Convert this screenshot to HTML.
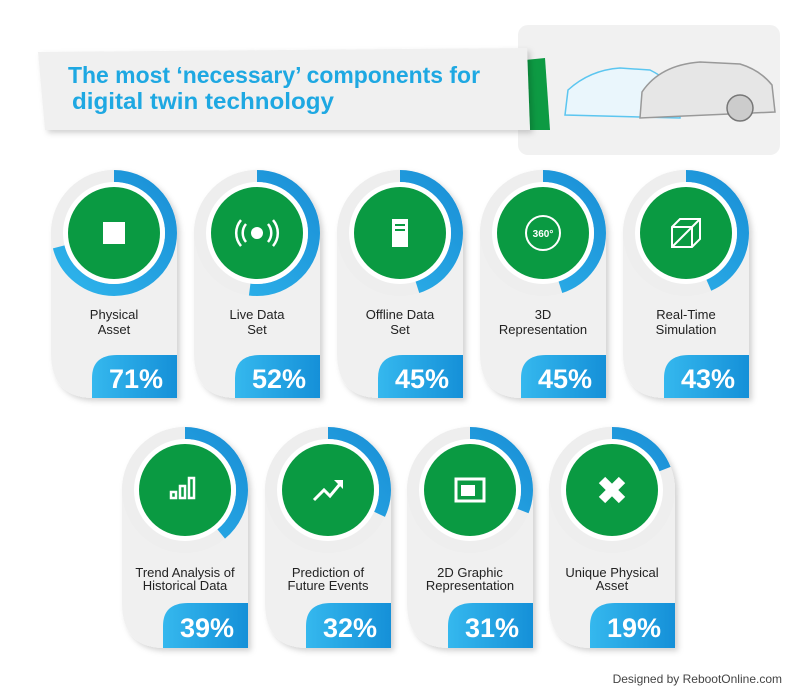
<!DOCTYPE html>
<html><head><meta charset="utf-8"><style>
html,body{margin:0;padding:0;background:#fff;}
svg{display:block;font-family:"Liberation Sans",Arial,sans-serif;}
</style></head><body>
<svg width="810" height="695" viewBox="0 0 810 695" xmlns="http://www.w3.org/2000/svg">
<defs>
<linearGradient id="bg" x1="0" y1="0" x2="1" y2="0"><stop offset="0" stop-color="#35b8ee"/><stop offset="1" stop-color="#1590d8"/></linearGradient>
<linearGradient id="ring" x1="0" y1="0" x2="1" y2="1"><stop offset="0" stop-color="#2fb5ec"/><stop offset="1" stop-color="#1a8fd6"/></linearGradient>
<filter id="sh" x="-20%" y="-20%" width="150%" height="150%"><feDropShadow dx="3" dy="3" stdDeviation="3" flood-color="#000" flood-opacity="0.18"/></filter>
</defs>
<rect x="518" y="25" width="262" height="130" rx="10" fill="#f1f1f1"/>
<polygon points="525,60 545,58 550,130 530,130" fill="#0d9a43"/>
<polygon points="38,52 527,48 530,130 45,130" fill="#f0f0f0" filter="url(#sh)"/>
<text x="68" y="83" font-size="23" font-weight="bold" fill="#1ea8e2" textLength="412" lengthAdjust="spacingAndGlyphs">The most ‘necessary’ components for</text>
<text x="72" y="109" font-size="23" font-weight="bold" fill="#1ea8e2" textLength="262" lengthAdjust="spacingAndGlyphs">digital twin technology</text>
<g stroke-width="1.5">
<path d="M565,115 L568,90 Q590,70 620,68 L650,70 Q670,80 680,95 L680,118 Z" stroke="#5cc6f0" fill="#eaf6fc"/>
<path d="M640,118 L642,92 Q660,65 700,62 L740,64 Q760,70 772,85 L775,112 L640,118 Z" stroke="#999" fill="#e6e6e6"/>
<circle cx="740" cy="108" r="13" stroke="#777" fill="#ccc"/>
</g>
<g>
<g transform="translate(114,233)"><path d="M-63,0 A63,63 0 0 1 63,0 L63,165 L-20,165 Q-63,165 -63,120 Z" fill="#f0f0f0" filter="url(#sh)"/><circle r="63" fill="#eeeeee"/><circle r="57" fill="none" stroke="url(#ring)" stroke-width="12" stroke-dasharray="254.3 400" transform="rotate(-90)"/><circle r="51" fill="#fff"/><circle r="46" fill="#0a9a42"/><rect x="-11" y="-11" width="22" height="22" fill="#fff"/><text y="86" font-size="13" text-anchor="middle" fill="#222">Physical</text><text y="101" font-size="13" text-anchor="middle" fill="#222">Asset</text><path d="M-22,165 L-22,145 Q-22,122 3,122 L63,122 L63,165 Z" fill="url(#bg)"/><text x="22" y="155" font-size="27" font-weight="bold" text-anchor="middle" fill="#fff">71%</text></g>
<g transform="translate(257,233)"><path d="M-63,0 A63,63 0 0 1 63,0 L63,165 L-20,165 Q-63,165 -63,120 Z" fill="#f0f0f0" filter="url(#sh)"/><circle r="63" fill="#eeeeee"/><circle r="57" fill="none" stroke="url(#ring)" stroke-width="12" stroke-dasharray="186.3 400" transform="rotate(-90)"/><circle r="51" fill="#fff"/><circle r="46" fill="#0a9a42"/><circle r="6" fill="#fff"/><path d="M-11,-9 A14,14 0 0 0 -11,9 M11,-9 A14,14 0 0 1 11,9 M-16,-13 A20,20 0 0 0 -16,13 M16,-13 A20,20 0 0 1 16,13" stroke="#fff" stroke-width="2.5" fill="none"/><text y="86" font-size="13" text-anchor="middle" fill="#222">Live Data</text><text y="101" font-size="13" text-anchor="middle" fill="#222">Set</text><path d="M-22,165 L-22,145 Q-22,122 3,122 L63,122 L63,165 Z" fill="url(#bg)"/><text x="22" y="155" font-size="27" font-weight="bold" text-anchor="middle" fill="#fff">52%</text></g>
<g transform="translate(400,233)"><path d="M-63,0 A63,63 0 0 1 63,0 L63,165 L-20,165 Q-63,165 -63,120 Z" fill="#f0f0f0" filter="url(#sh)"/><circle r="63" fill="#eeeeee"/><circle r="57" fill="none" stroke="url(#ring)" stroke-width="12" stroke-dasharray="161.2 400" transform="rotate(-90)"/><circle r="51" fill="#fff"/><circle r="46" fill="#0a9a42"/><rect x="-8" y="-14" width="16" height="28" fill="#fff"/><rect x="-5" y="-9" width="10" height="2" fill="#0a9a42"/><rect x="-5" y="-4" width="10" height="2" fill="#0a9a42"/><text y="86" font-size="13" text-anchor="middle" fill="#222">Offline Data</text><text y="101" font-size="13" text-anchor="middle" fill="#222">Set</text><path d="M-22,165 L-22,145 Q-22,122 3,122 L63,122 L63,165 Z" fill="url(#bg)"/><text x="22" y="155" font-size="27" font-weight="bold" text-anchor="middle" fill="#fff">45%</text></g>
<g transform="translate(543,233)"><path d="M-63,0 A63,63 0 0 1 63,0 L63,165 L-20,165 Q-63,165 -63,120 Z" fill="#f0f0f0" filter="url(#sh)"/><circle r="63" fill="#eeeeee"/><circle r="57" fill="none" stroke="url(#ring)" stroke-width="12" stroke-dasharray="161.2 400" transform="rotate(-90)"/><circle r="51" fill="#fff"/><circle r="46" fill="#0a9a42"/><circle r="17" fill="none" stroke="#fff" stroke-width="2"/><text y="4" font-size="10" font-weight="bold" text-anchor="middle" fill="#fff">360°</text><text y="86" font-size="13" text-anchor="middle" fill="#222">3D</text><text y="101" font-size="13" text-anchor="middle" fill="#222">Representation</text><path d="M-22,165 L-22,145 Q-22,122 3,122 L63,122 L63,165 Z" fill="url(#bg)"/><text x="22" y="155" font-size="27" font-weight="bold" text-anchor="middle" fill="#fff">45%</text></g>
<g transform="translate(686,233)"><path d="M-63,0 A63,63 0 0 1 63,0 L63,165 L-20,165 Q-63,165 -63,120 Z" fill="#f0f0f0" filter="url(#sh)"/><circle r="63" fill="#eeeeee"/><circle r="57" fill="none" stroke="url(#ring)" stroke-width="12" stroke-dasharray="155.4 400" transform="rotate(-90)"/><circle r="51" fill="#fff"/><circle r="46" fill="#0a9a42"/><path d="M-14,-6 L-6,-14 L14,-14 L14,6 L6,14 L-14,14 Z M-14,-6 L6,-6 L6,14 M6,-6 L14,-14 M-14,14 L6,-6" stroke="#fff" stroke-width="2" fill="none"/><text y="86" font-size="13" text-anchor="middle" fill="#222">Real-Time</text><text y="101" font-size="13" text-anchor="middle" fill="#222">Simulation</text><path d="M-22,165 L-22,145 Q-22,122 3,122 L63,122 L63,165 Z" fill="url(#bg)"/><text x="22" y="155" font-size="27" font-weight="bold" text-anchor="middle" fill="#fff">43%</text></g>
<g transform="translate(185,490)"><path d="M-63,0 A63,63 0 0 1 63,0 L63,158 L-20,158 Q-63,158 -63,113 Z" fill="#f0f0f0" filter="url(#sh)"/><circle r="63" fill="#eeeeee"/><circle r="57" fill="none" stroke="url(#ring)" stroke-width="12" stroke-dasharray="139.7 400" transform="rotate(-90)"/><circle r="51" fill="#fff"/><circle r="46" fill="#0a9a42"/><g fill="none" stroke="#fff" stroke-width="2.5"><rect x="-14" y="2" width="5" height="6"/><rect x="-5" y="-4" width="5" height="12"/><rect x="4" y="-12" width="5" height="20"/></g><text y="87" font-size="13" text-anchor="middle" fill="#222">Trend Analysis of</text><text y="100" font-size="13" text-anchor="middle" fill="#222">Historical Data</text><path d="M-22,158 L-22,136 Q-22,113 3,113 L63,113 L63,158 Z" fill="url(#bg)"/><text x="22" y="147" font-size="27" font-weight="bold" text-anchor="middle" fill="#fff">39%</text></g>
<g transform="translate(328,490)"><path d="M-63,0 A63,63 0 0 1 63,0 L63,158 L-20,158 Q-63,158 -63,113 Z" fill="#f0f0f0" filter="url(#sh)"/><circle r="63" fill="#eeeeee"/><circle r="57" fill="none" stroke="url(#ring)" stroke-width="12" stroke-dasharray="114.6 400" transform="rotate(-90)"/><circle r="51" fill="#fff"/><circle r="46" fill="#0a9a42"/><path d="M-14,10 L-4,0 L2,6 L12,-6" stroke="#fff" stroke-width="3" fill="none"/><polygon points="6,-10 15,-10 15,-1" fill="#fff"/><text y="87" font-size="13" text-anchor="middle" fill="#222">Prediction of</text><text y="100" font-size="13" text-anchor="middle" fill="#222">Future Events</text><path d="M-22,158 L-22,136 Q-22,113 3,113 L63,113 L63,158 Z" fill="url(#bg)"/><text x="22" y="147" font-size="27" font-weight="bold" text-anchor="middle" fill="#fff">32%</text></g>
<g transform="translate(470,490)"><path d="M-63,0 A63,63 0 0 1 63,0 L63,158 L-20,158 Q-63,158 -63,113 Z" fill="#f0f0f0" filter="url(#sh)"/><circle r="63" fill="#eeeeee"/><circle r="57" fill="none" stroke="url(#ring)" stroke-width="12" stroke-dasharray="111 400" transform="rotate(-90)"/><circle r="51" fill="#fff"/><circle r="46" fill="#0a9a42"/><rect x="-14" y="-11" width="28" height="22" fill="none" stroke="#fff" stroke-width="3"/><rect x="-9" y="-5" width="14" height="11" fill="#fff"/><text y="87" font-size="13" text-anchor="middle" fill="#222">2D Graphic</text><text y="100" font-size="13" text-anchor="middle" fill="#222">Representation</text><path d="M-22,158 L-22,136 Q-22,113 3,113 L63,113 L63,158 Z" fill="url(#bg)"/><text x="22" y="147" font-size="27" font-weight="bold" text-anchor="middle" fill="#fff">31%</text></g>
<g transform="translate(612,490)"><path d="M-63,0 A63,63 0 0 1 63,0 L63,158 L-20,158 Q-63,158 -63,113 Z" fill="#f0f0f0" filter="url(#sh)"/><circle r="63" fill="#eeeeee"/><circle r="57" fill="none" stroke="url(#ring)" stroke-width="12" stroke-dasharray="68 400" transform="rotate(-90)"/><circle r="51" fill="#fff"/><circle r="46" fill="#0a9a42"/><path d="M-10,-10 L10,10 M10,-10 L-10,10" stroke="#fff" stroke-width="9"/><text y="87" font-size="13" text-anchor="middle" fill="#222">Unique Physical</text><text y="100" font-size="13" text-anchor="middle" fill="#222">Asset</text><path d="M-22,158 L-22,136 Q-22,113 3,113 L63,113 L63,158 Z" fill="url(#bg)"/><text x="22" y="147" font-size="27" font-weight="bold" text-anchor="middle" fill="#fff">19%</text></g>
</g>
<text x="782" y="683" font-size="12" text-anchor="end" fill="#444">Designed by RebootOnline.com</text>
</svg>
</body></html>
